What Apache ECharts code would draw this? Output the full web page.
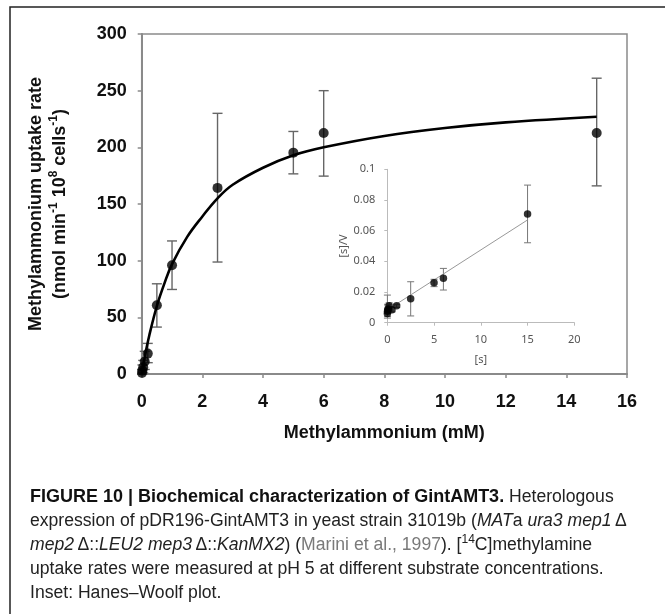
<!DOCTYPE html>
<html>
<head>
<meta charset="utf-8">
<script src="https://cdn.jsdelivr.net/npm/echarts@6/dist/echarts.min.js"></script>
<style>
html,body{margin:0;padding:0;background:#fff;}
#chart{width:665px;height:614px;}
</style>
</head>
<body>
<div id="chart"></div>
<script>
// ---- Main plot data (Methylammonium mM vs uptake rate) ----
var concMain   = [0.01, 0.025, 0.05, 0.1, 0.2, 0.5, 1, 2.5, 5, 6, 15];
var rateMain   = [1, 3, 6, 11, 18, 60.6, 95.9, 164.2, 195.3, 212.7, 212.7];
var errUpper   = [4, 8, 12, 20, 27, 79.6, 117.4, 230, 214, 250, 261];
var errLower   = [0, 0, 1, 4, 10, 41.4, 74.6, 98.8, 176.6, 174.6, 166];
// fitted curve
var curveX = [0, 0.1, 0.25, 0.5, 0.75, 1, 1.5, 2, 2.5, 3, 4, 5, 6, 8, 10, 12, 15];
var curveY = [0, 15, 34, 60, 80, 97, 121, 139, 155, 167, 182, 193, 200, 210, 217, 222, 227];
var mainXTicks = [0, 2, 4, 6, 8, 10, 12, 14, 16];
var mainYTicks = [0, 50, 100, 150, 200, 250, 300];

// ---- Inset data (Hanes-Woolf) ----
var insetS      = [0.01, 0.025, 0.05, 0.1, 0.2, 0.5, 1, 2.5, 5, 6, 15];
var insetSV     = [0.006, 0.0075, 0.0085, 0.009, 0.011, 0.0085, 0.011, 0.0156, 0.026, 0.029, 0.0708];
var insetUpper  = [0.018, 0.012, 0.011, 0.012, 0.013, 0.010, 0.012, 0.0267, 0.0283, 0.0354, 0.0897];
var insetLower  = [0.003, 0.004, 0.006, 0.007, 0.009, 0.007, 0.010, 0.0044, 0.0235, 0.0213, 0.0521];
var insetLineX  = [0, 15];
var insetLineY  = [0.0083, 0.067];
var insetXTicks = [0, 5, 10, 15, 20];
var insetYTicks = [0, 0.02, 0.04, 0.06, 0.08, 0.1];

var chart = echarts.init(document.getElementById('chart'), null, {renderer:'canvas'});

function zip2(a,b){return a.map(function(v,i){return [v,b[i]];});}
function zip3(a,b,c){return a.map(function(v,i){return [v,b[i],c[i]];});}

function errRender(cap, color, lw){
  return function(params, api){
    var x = api.value(0), hi = api.value(1), lo = api.value(2);
    var pH = api.coord([x, hi]), pL = api.coord([x, lo]);
    var st = {stroke: color, lineWidth: lw};
    return {type:'group', children:[
      {type:'line', shape:{x1:pH[0], y1:pH[1], x2:pL[0], y2:pL[1]}, style:st},
      {type:'line', shape:{x1:pH[0]-cap, y1:pH[1], x2:pH[0]+cap, y2:pH[1]}, style:st},
      {type:'line', shape:{x1:pL[0]-cap, y1:pL[1], x2:pL[0]+cap, y2:pL[1]}, style:st}
    ]};
  };
}

var boldFont = 'Liberation Sans, Arial, sans-serif';
var insetFont = 'Noto Sans, sans-serif';

var capFont = 'Liberation Sans, Arial, sans-serif';
var capSize = 17.6;
var capRich = {
  b: {fontFamily: capFont, fontSize: 18, fontWeight: 'bold', fill: '#111', lineHeight: 22},
  r: {fontFamily: capFont, fontSize: capSize, fill: '#222', lineHeight: 22},
  i: {fontFamily: capFont, fontSize: capSize, fontStyle: 'italic', fill: '#222', lineHeight: 22},
  g: {fontFamily: capFont, fontSize: capSize, fill: '#7a7a7a', lineHeight: 22},
  s: {fontFamily: capFont, fontSize: 12, fill: '#222', lineHeight: 12, verticalAlign: 'top'}
};
function capLine(y, txt){
  return {type:'text', x: 30, y: y, style:{text: txt, rich: capRich, font: capSize + 'px ' + capFont,
    align:'left', verticalAlign:'middle'}};
}

var option = {
  animation: false,
  backgroundColor: '#fff',
  grid: [
    {left: 141.7, right: 38, top: 34, bottom: 240, show: true, borderColor: '#8a8a8a', borderWidth: 1.5, backgroundColor: 'transparent'},
    {left: 387.3, right: 90.7, top: 169.3, bottom: 291.3}
  ],
  xAxis: [
    {gridIndex:0, type:'value', min:0, max:16, interval:2,
     name:'Methylammonium (mM)', nameLocation:'middle', nameGap: 50,
     nameTextStyle:{fontFamily: boldFont, fontWeight:'bold', fontSize:18, color:'#111'},
     axisLine:{show:true, lineStyle:{color:'#8a8a8a', width:2}},
     axisTick:{show:true, inside:false, length:4, lineStyle:{color:'#8a8a8a', width:1.5}},
     axisLabel:{fontFamily: boldFont, fontWeight:'bold', fontSize:18, color:'#111', margin:19},
     splitLine:{show:false}},
    {gridIndex:1, type:'value', min:0, max:20, interval:5,
     name:'[s]', nameLocation:'middle', nameGap: 32,
     nameTextStyle:{fontFamily: insetFont, fontSize:11, color:'#555'},
     axisLine:{show:true, lineStyle:{color:'#bbb', width:1}},
     axisTick:{show:true, length:3, lineStyle:{color:'#bbb'}},
     axisLabel:{fontFamily: insetFont, fontSize:11, color:'#555', margin:12},
     splitLine:{show:false}}
  ],
  yAxis: [
    {gridIndex:0, type:'value', min:0, max:300, interval:50,
     name:'{n|Methylammonium uptake rate}\n{n|(nmol min}{s|-1}{n| 10}{s|8}{n| cells}{s|-1}{n|)}',
     nameLocation:'middle', nameRotate: 90, nameGap: 70,
     nameTextStyle:{fontFamily: boldFont, fontWeight:'bold', fontSize:18, color:'#111',
       rich:{
         n:{fontFamily: boldFont, fontWeight:'bold', fontSize:18, color:'#111', lineHeight:24},
         s:{fontFamily: boldFont, fontWeight:'bold', fontSize:12, color:'#111', lineHeight:14, verticalAlign:'top'}
       }},
     axisLine:{show:true, lineStyle:{color:'#8a8a8a', width:2}},
     axisTick:{show:true, length:4, lineStyle:{color:'#8a8a8a', width:1.5}},
     axisLabel:{fontFamily: boldFont, fontWeight:'bold', fontSize:18, color:'#111', margin:15},
     splitLine:{show:false}},
    {gridIndex:1, type:'value', min:0, max:0.1, interval:0.02,
     name:'[s]/V', nameLocation:'middle', nameRotate:90, nameGap: 38,
     nameTextStyle:{fontFamily: insetFont, fontSize:11, color:'#555'},
     axisLine:{show:true, lineStyle:{color:'#bbb', width:1}},
     axisTick:{show:true, length:3, lineStyle:{color:'#bbb'}},
     axisLabel:{fontFamily: insetFont, fontSize:11, color:'#555', margin:12},
     splitLine:{show:false}}
  ],
  series: [
    {type:'custom', xAxisIndex:0, yAxisIndex:0, renderItem: errRender(5, '#666', 1.4),
     data: zip3(concMain, errUpper, errLower), encode:{x:0, y:[1,2]}, clip:false, z:2},
    {type:'line', xAxisIndex:0, yAxisIndex:0, data: zip2(curveX, curveY), smooth:0.4,
     showSymbol:false, lineStyle:{color:'#000', width:2.6}, clip:false, z:3},
    {type:'scatter', xAxisIndex:0, yAxisIndex:0, data: zip2(concMain, rateMain),
     symbol:'circle', symbolSize:10, itemStyle:{color:'#000'}, clip:false, z:4},
    {type:'custom', xAxisIndex:1, yAxisIndex:1, renderItem: errRender(3.5, '#777', 1),
     data: zip3(insetS, insetUpper, insetLower), encode:{x:0, y:[1,2]}, clip:false, z:2},
    {type:'line', xAxisIndex:1, yAxisIndex:1, data: zip2(insetLineX, insetLineY),
     showSymbol:false, lineStyle:{color:'#999', width:1}, z:3},
    {type:'scatter', xAxisIndex:1, yAxisIndex:1, data: zip2(insetS, insetSV),
     symbol:'circle', symbolSize:7.5, itemStyle:{color:'#000'}, clip:false, z:4}
  ],
  graphic: [
    {type:'polyline', shape:{points:[[10,614],[10,7],[665,7]]}, style:{stroke:'#222', lineWidth:1.5, fill:null}},
    capLine(497, '{b|FIGURE 10 | Biochemical characterization of GintAMT3.}{r| Heterologous}'),
    capLine(521, '{r|expression of pDR196-GintAMT3 in yeast strain 31019b (}{i|MAT}{r|a }{i|ura3 mep1}{r|\u2009\u0394}'),
    capLine(545, '{i|mep2}{r|\u2009\u0394::}{i|LEU2 mep3}{r|\u2009\u0394::}{i|KanMX2}{r|) (}{g|Marini et al., 1997}{r|). [}{s|14}{r|C]methylamine}'),
    capLine(569, '{r|uptake rates were measured at pH 5 at different substrate concentrations.}'),
    capLine(593, '{r|Inset: Hanes\u2013Woolf plot.}')
  ]
};
chart.setOption(option);
</script>
</body>
</html>
